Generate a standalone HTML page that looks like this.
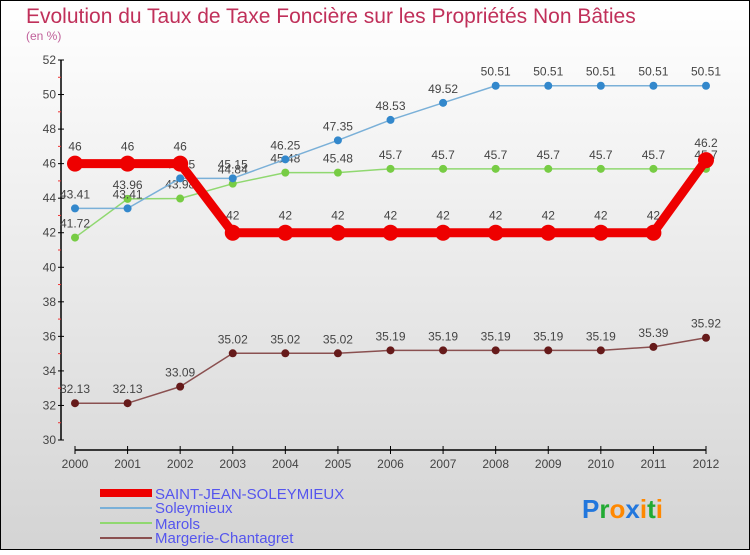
<!DOCTYPE html>
<html><head><meta charset="utf-8"><style>
body{margin:0;width:750px;height:550px;overflow:hidden;font-family:"Liberation Sans",sans-serif}
</style></head><body>
<svg id="c" width="750" height="550" xmlns="http://www.w3.org/2000/svg">
<defs><linearGradient id="bg" x1="0" y1="0" x2="0" y2="1"><stop offset="0" stop-color="#ffffff"/><stop offset="1" stop-color="#d4d4d4"/></linearGradient></defs>
<rect x="0.5" y="0.5" width="749" height="549" fill="url(#bg)" stroke="#000"/>
<text x="26" y="23" font-size="21" fill="#c0305a">Evolution du Taux de Taxe Foncière sur les Propriétés Non Bâties</text>
<text x="26" y="40" font-size="12" fill="#c0609a">(en %)</text>
<g id="axes"></g><g id="series"></g>
<g>
<rect x="100" y="489" width="52" height="8" fill="#ee0000"/>
<text x="155" y="499" font-size="15" fill="#5555ee">SAINT-JEAN-SOLEYMIEUX</text>
<line x1="100" y1="508" x2="152" y2="508" stroke="#7ab0d8" stroke-width="2"/>
<text x="155" y="513" font-size="15" fill="#5555ee">Soleymieux</text>
<line x1="100" y1="523" x2="152" y2="523" stroke="#90d870" stroke-width="2"/>
<text x="155" y="529" font-size="15" fill="#5555ee">Marols</text>
<line x1="100" y1="538" x2="152" y2="538" stroke="#8a5050" stroke-width="2"/>
<text x="155" y="543" font-size="15" fill="#5555ee">Margerie-Chantagret</text>
</g>
<g font-size="26" font-weight="bold">
<text x="582" y="518"><tspan fill="#2277dd">P</tspan><tspan fill="#22aa33">r</tspan><tspan fill="#ff8800">o</tspan><tspan fill="#2277dd">x</tspan><tspan fill="#ff8800">i</tspan><tspan fill="#22aa33">t</tspan><tspan fill="#ff8800">i</tspan></text>
</g>
</svg>
<script>
const years=[2000,2001,2002,2003,2004,2005,2006,2007,2008,2009,2010,2011,2012];
const yTicks=[30,32,34,36,38,40,42,44,46,48,50,52];
const saintJean=[46,46,46,42,42,42,42,42,42,42,42,42,46.2];
const soleymieux=[43.41,43.41,45.15,45.15,46.25,47.35,48.53,49.52,50.51,50.51,50.51,50.51,50.51];
const marols=[41.72,43.96,43.98,44.84,45.48,45.48,45.7,45.7,45.7,45.7,45.7,45.7,45.7];
const margerie=[32.13,32.13,33.09,35.02,35.02,35.02,35.19,35.19,35.19,35.19,35.19,35.39,35.92];
const NS="http://www.w3.org/2000/svg";
const X=i=>75+i*(706-75)/(years.length-1);
const Y=v=>440-(v-30)*(380/22);
function mk(t,a,p){const e=document.createElementNS(NS,t);for(const k in a)e.setAttribute(k,a[k]);p.appendChild(e);return e;}
const ax=document.getElementById('axes');
let l=mk('line',{x1:61,y1:60,x2:61,y2:440,stroke:'#000','stroke-width':1.5},ax);


l=mk('line',{x1:75,y1:450,x2:706,y2:450,stroke:'#000','stroke-width':1.5},ax);


yTicks.forEach(v=>{const y=Y(v);mk('line',{x1:58,y1:y,x2:64,y2:y,stroke:'#000'},ax);
 if(v<52)mk('line',{x1:58,y1:Y(v+1),x2:61,y2:Y(v+1),stroke:'#e33'},ax);
 const t=mk('text',{x:56,y:y+4,'font-size':12,'text-anchor':'end',fill:'#444'},ax);t.textContent=v;
 
 });
years.forEach((yr,i)=>{mk('line',{x1:X(i),y1:446,x2:X(i),y2:454,stroke:'#000'},ax);
 const t=mk('text',{x:X(i),y:468,'font-size':12,'text-anchor':'middle',fill:'#444'},ax);t.textContent=yr;
 
 });
const sg=document.getElementById('series');
function draw(vals,color,w,r,name,dot){const g=mk('g',{},sg);
 
 
 mk('polyline',{points:vals.map((v,i)=>X(i)+','+Y(v)).join(' '),fill:'none',stroke:color,'stroke-width':w,'stroke-linejoin':'round'},g);
 vals.forEach((v,i)=>{const c=mk('circle',{cx:X(i),cy:Y(v),r:r,fill:dot},g);
  
  
  const t=mk('text',{x:X(i),y:Y(v)-10-(r>5?3:0),'font-size':12,'text-anchor':'middle',fill:'#444'},g);t.textContent=String(v);
  
  });}
draw(margerie,'#8a5050',1.5,4,'series-margerie','#661a1a');
draw(marols,'#90d870',1.5,4,'series-marols','#77cc44');
draw(soleymieux,'#7ab0d8',1.5,4,'series-soleymieux','#3388cc');
draw(saintJean,'#ee0000',9,8,'series-saint-jean','#ee0000');
</script>
</body></html>
